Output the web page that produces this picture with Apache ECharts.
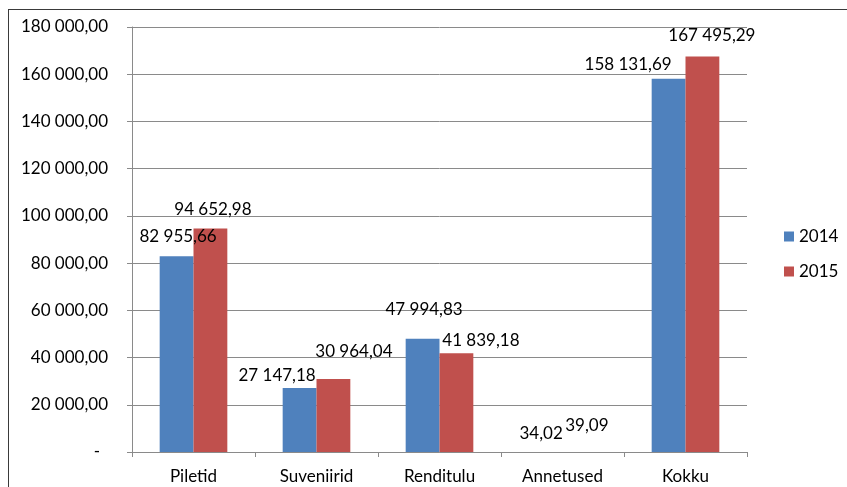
<!DOCTYPE html>
<html>
<head>
<meta charset="utf-8">
<script src="https://cdn.jsdelivr.net/npm/echarts@6/dist/echarts.min.js"></script>
<style>
html,body{margin:0;padding:0;background:#fff;overflow:hidden;}
#frame{position:absolute;left:8px;top:9px;width:1000px;height:700px;border:1.5px solid #3a3a3a;box-sizing:border-box;}
#chart{position:absolute;left:0;top:0;width:847px;height:487px;}
</style>
</head>
<body>
<div id="frame"></div>
<div id="chart"></div>
<script>
const categories = ['Piletid', 'Suveniirid', 'Renditulu', 'Annetused', 'Kokku'];
const seriesNames = ['2014', '2015'];
const values2014 = [82955.66, 27147.18, 47994.83, 34.02, 158131.69];
const values2015 = [94652.98, 30964.04, 41839.18, 39.09, 167495.29];
const yTicks = { min: 0, max: 180000, interval: 20000 };

// label placement tweaks (style, not data)
const labelOffsets2014 = [[1.5, -11.6], [-22.5, -3.4], [1.5, -20.2], [-4.5, -10.4], [-40.5, -6.1]];
const labelOffsets2015 = [[2.5, -10], [20.5, -18.4], [24.5, -3.7], [7.5, -17.4], [9.5, -13]];

const FONT = 'Lato';
function fmt(v) {
  const parts = v.toFixed(2).split('.');
  const intPart = parts[0].replace(/\B(?=(\d{3})+(?!\d))/g, ' ');
  return intPart + ',' + parts[1];
}

function buildData(vals, offs) {
  return vals.map((v, i) => ({
    value: v,
    label: { offset: offs[i] }
  }));
}

const chart = echarts.init(document.getElementById('chart'));
chart.setOption({
  animation: false,
  backgroundColor: 'transparent',
  textStyle: { fontFamily: FONT },
  grid: { left: 132, right: 100, top: 27, bottom: 35 },
  legend: {
    orient: 'vertical',
    left: 779,
    top: 223,
    itemWidth: 10,
    itemHeight: 10,
    itemGap: 18,
    icon: 'rect',
    data: seriesNames,
    textStyle: { fontFamily: FONT, fontSize: 17, color: '#000' }
  },
  xAxis: {
    type: 'category',
    data: categories,
    axisLine: { lineStyle: { color: '#8a8a8a', width: 1 } },
    axisTick: { show: true, length: 5, lineStyle: { color: '#8a8a8a' } },
    axisLabel: { fontFamily: FONT, fontSize: 17, color: '#000', margin: 16 },
    splitLine: { show: false }
  },
  yAxis: {
    type: 'value',
    min: yTicks.min,
    max: yTicks.max,
    interval: yTicks.interval,
    axisLine: { show: true, lineStyle: { color: '#8a8a8a', width: 1 } },
    axisTick: { show: true, length: 5, lineStyle: { color: '#8a8a8a' } },
    splitLine: { lineStyle: { color: '#8a8a8a', width: 1 } },
    axisLabel: {
      fontFamily: FONT, fontSize: 17, color: '#000', margin: 24,
      formatter: v => v === 0 ? '{d|-}' : fmt(v),
      rich: { d: { fontFamily: FONT, fontSize: 17, color: '#000', padding: [0, 8, 0, 0] } }
    }
  },
  series: [
    {
      name: seriesNames[0],
      type: 'bar',
      data: buildData(values2014, labelOffsets2014),
      itemStyle: { color: '#4F81BD' },
      barGap: '0%',
      barCategoryGap: '45%',
      label: {
        show: true, position: 'top', distance: 0,
        fontFamily: FONT, fontSize: 17, color: '#000',
        formatter: p => fmt(p.value)
      }
    },
    {
      name: seriesNames[1],
      type: 'bar',
      data: buildData(values2015, labelOffsets2015),
      itemStyle: { color: '#C0504D' },
      barGap: '0%',
      barCategoryGap: '45%',
      label: {
        show: true, position: 'top', distance: 0,
        fontFamily: FONT, fontSize: 17, color: '#000',
        formatter: p => fmt(p.value)
      }
    }
  ]
});
</script>
</body>
</html>
